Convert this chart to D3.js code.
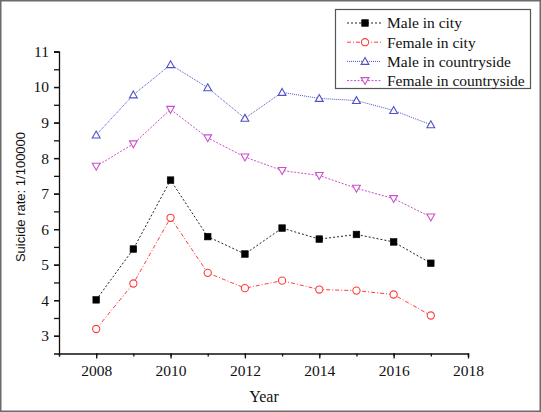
<!DOCTYPE html>
<html><head><meta charset="utf-8">
<script src="https://cdn.jsdelivr.net/npm/d3@7"></script>
<style>
html,body{margin:0;padding:0;background:#fff;}
svg{display:block;}
</style></head>
<body>
<svg id="chart" width="541" height="412"></svg>
<script>
const years = [2008, 2009, 2010, 2011, 2012, 2013, 2014, 2015, 2016, 2017];
const maleCity = [4.01, 5.44, 7.38, 5.79, 5.30, 6.03, 5.72, 5.85, 5.64, 5.04];
const femaleCity = [3.19, 4.47, 6.32, 4.77, 4.34, 4.55, 4.30, 4.27, 4.16, 3.57];
const maleCountry = [8.65, 9.78, 10.63, 9.98, 9.12, 9.85, 9.68, 9.62, 9.34, 8.94];
const femaleCountry = [7.77, 8.40, 9.37, 8.57, 8.03, 7.65, 7.51, 7.15, 6.86, 6.34];
const seriesNames = ["Male in city", "Female in city", "Male in countryside", "Female in countryside"];
const xTicks = [2008, 2010, 2012, 2014, 2016, 2018];
const yTicks = [3, 4, 5, 6, 7, 8, 9, 10, 11];

const series = [
  {name: seriesNames[0], values: maleCity, color: "#222", marker: "square", dash: "2,2"},
  {name: seriesNames[1], values: femaleCity, color: "#ff3b3b", marker: "circle", dash: "4,2,1,2"},
  {name: seriesNames[2], values: maleCountry, color: "#5050c8", marker: "up", dash: "1,1"},
  {name: seriesNames[3], values: femaleCountry, color: "#cc4fcc", marker: "down", dash: "2,1.5"}
];

const SERIF = "Liberation Serif";
const SANS = "Liberation Sans";
const svg = d3.select("#chart");

// outer border
svg.append("rect").attr("x", 0.75).attr("y", 0.75).attr("width", 539.5).attr("height", 410.5)
  .attr("fill", "#fff").attr("stroke", "#6b6b6b").attr("stroke-width", 1.5);

const x = d3.scaleLinear().domain([2007, 2018]).range([59, 468]);
const y = d3.scaleLinear().domain([2.5, 11]).range([353.5, 51.5]);

// X axis
const xAxisG = svg.append("g").attr("transform", `translate(0,${y(2.5)})`);
xAxisG.call(d3.axisBottom(x).tickValues(d3.range(2007, 2019, 1)).tickSize(3).tickFormat(""));
const xMajor = svg.append("g").attr("transform", `translate(0,${y(2.5)})`)
  .call(d3.axisBottom(x).tickValues(xTicks).tickSize(5).tickPadding(6).tickFormat(d3.format("d")));
[xAxisG, xMajor].forEach(g => {
  g.attr("font-family", SERIF).attr("font-size", 15.5);
  g.select(".domain").attr("stroke", "#111").attr("stroke-width", 1.3);
  g.selectAll(".tick line").attr("stroke", "#111").attr("stroke-width", 1.3);
});
xMajor.select(".domain").remove();
xMajor.selectAll(".tick text").style("font-family", SERIF).style("font-size", "15.5px").attr("fill", "#111");

// Y axis
const yAxisG = svg.append("g").attr("transform", `translate(${x(2007)},0)`);
yAxisG.call(d3.axisLeft(y).tickValues(d3.range(3, 11.01, 0.5)).tickSize(5).tickFormat(""));
const yMajor = svg.append("g").attr("transform", `translate(${x(2007)},0)`)
  .call(d3.axisLeft(y).tickValues(yTicks).tickSize(5).tickPadding(5).tickFormat(d3.format("d")));
[yAxisG, yMajor].forEach(g => {
  g.attr("font-family", SERIF).attr("font-size", 15.5);
  g.select(".domain").attr("stroke", "#111").attr("stroke-width", 1.3);
  g.selectAll(".tick line").attr("stroke", "#111").attr("stroke-width", 1.3);
});
yMajor.select(".domain").remove();
yMajor.selectAll(".tick text").style("font-family", SERIF).style("font-size", "15.5px").attr("fill", "#111");

// axis titles
svg.append("text").attr("x", 264).attr("y", 402).attr("text-anchor", "middle")
  .style("font-family", SERIF).style("font-size", "16px").attr("fill", "#111").text("Year");
svg.append("text").attr("transform", "translate(25,197) rotate(-90)").attr("text-anchor", "middle")
  .style("font-family", SANS).style("font-size", "13px").attr("fill", "#111")
  .text("Suicide rate: 1/100000");

function drawMarker(g, type, cx, cy, color) {
  if (type === "square") {
    g.append("rect").attr("x", cx - 3.3).attr("y", cy - 3.3).attr("width", 6.6).attr("height", 6.6)
      .attr("fill", "#000").attr("stroke", "#000").attr("stroke-width", 0.6);
  } else if (type === "circle") {
    g.append("circle").attr("cx", cx).attr("cy", cy).attr("r", 3.6)
      .attr("fill", "#fff").attr("stroke", color).attr("stroke-width", 1.1);
  } else if (type === "up") {
    g.append("path").attr("d", `M${cx},${cy - 3.9}L${cx + 3.9},${cy + 3}L${cx - 3.9},${cy + 3}Z`)
      .attr("fill", "#fff").attr("stroke", color).attr("stroke-width", 1.1);
  } else {
    g.append("path").attr("d", `M${cx},${cy + 3.9}L${cx + 3.9},${cy - 3}L${cx - 3.9},${cy - 3}Z`)
      .attr("fill", "#fff").attr("stroke", color).attr("stroke-width", 1.1);
  }
}

const line = d3.line().x(d => x(d[0])).y(d => y(d[1]));
series.forEach(s => {
  const pts = years.map((yr, i) => [yr, s.values[i]]);
  svg.append("path").datum(pts).attr("d", line).attr("fill", "none")
    .attr("stroke", s.color).attr("stroke-width", 1).attr("stroke-dasharray", s.dash);
  const g = svg.append("g");
  pts.forEach(p => drawMarker(g, s.marker, x(p[0]), y(p[1]), s.color));
});

// legend
const lg = svg.append("g");
lg.append("rect").attr("x", 335.5).attr("y", 9.5).attr("width", 195).attr("height", 79)
  .attr("fill", "#fff").attr("stroke", "#555").attr("stroke-width", 1.2);
series.forEach((s, i) => {
  const cy = 23 + i * 19.2;
  lg.append("line").attr("x1", 347).attr("x2", 381).attr("y1", cy).attr("y2", cy)
    .attr("stroke", s.color).attr("stroke-width", 1).attr("stroke-dasharray", s.dash);
  drawMarker(lg, s.marker, 365, cy, s.color);
  lg.append("text").attr("x", 387).attr("y", cy + 5.3)
    .style("font-family", SERIF).style("font-size", "15.5px").attr("fill", "#111").text(s.name);
});
</script>
</body></html>
